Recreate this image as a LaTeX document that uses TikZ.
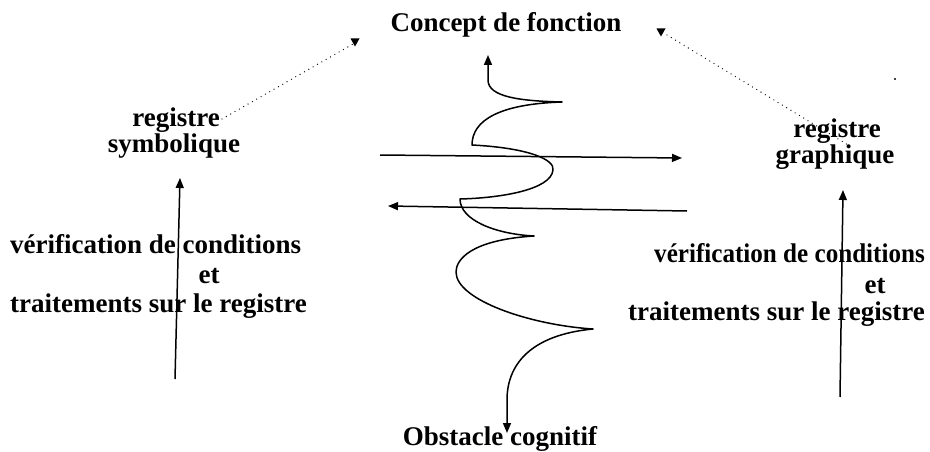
\documentclass[tikz,border=0pt]{standalone}
\usepackage{fontspec}
\setmainfont{Liberation Serif}
\usetikzlibrary{arrows.meta}
\begin{document}
\begin{tikzpicture}[x=1pt,y=-1pt,
  lbl/.style={font=\fontsize{27}{31}\selectfont\bfseries, inner sep=0pt},
  tip/.style={Triangle[length=10pt,width=8pt]},
  arr/.style={line width=1.5pt, -{Triangle[length=10pt,width=8pt]}},
  spiral/.style={line width=1.5pt, line join=round},
  dots/.style={line width=1.3pt, line cap=round, dash pattern=on 0pt off 5pt},
  downtri/.pic={\fill (-4.5,-3.5) -- (4.5,-3.5) -- (0,4.5) -- cycle;}]
\useasboundingbox (0,0) rectangle (930,452);

% titles
\node[lbl, anchor=base] (concept) at (506,32) {Concept de fonction};
\node[lbl, anchor=base] (obstacle) at (500,445) {Obstacle cognitif};

% registers
\node[lbl, anchor=base] (regS) at (176,127) {registre};
\node[lbl, anchor=base] (sym) at (174,153) {symbolique};
\node[lbl, anchor=base] (regG) at (837,137) {registre};
\node[lbl, anchor=base] (graph) at (835,163) {graphique};

% left side labels
\node[lbl, anchor=base west] (verL) at (10,253) {vérification de conditions};
\node[lbl, anchor=base] (etL) at (209,283) {et};
\node[lbl, anchor=base west] (traL) at (10,312) {traitements sur le registre};

% right side labels
\node[lbl, anchor=base east, xscale=0.93] (verR) at (925,262) {vérification de conditions};
\node[lbl, anchor=base] (etR) at (875,293) {et};
\node[lbl, anchor=base east] (traR) at (925,320) {traitements sur le registre};

% anchor points of the connectors
\coordinate (dsA) at (222,119);
\coordinate (dsB) at (353,44);
\coordinate (dgA) at (667,35);
\coordinate (dgB) at (848,145);
\coordinate (lvA) at (175,379);
\coordinate (lvB) at (180,178);
\coordinate (rvA) at (840,397);
\coordinate (rvB) at (843,190);
\coordinate (h1A) at (380,155);
\coordinate (h1B) at (682,158);
\coordinate (h2A) at (687,211);
\coordinate (h2B) at (388,206);
\coordinate (ctop) at (488,55);
\coordinate (cbot) at (507,433);

% dotted links towards the concept
\draw[dots] (dsA) -- (dsB);
\pic at (355,42) {downtri};
\draw[dots] (dgA) -- (dgB);
\pic at (661,32) {downtri};
\fill (895,79) circle (1.2pt);

% vertical arrows
\draw[arr] (lvA) -- (lvB);
\draw[arr] (rvA) -- (rvB);

% horizontal arrows
\draw[arr] (h1A) -- (h1B);
\draw[arr] (h2A) -- (h2B);

% spiral between the concept and the obstacle
\draw[spiral, {Triangle[length=10pt,width=8pt]}-{Triangle[length=10pt,width=8pt]}]
  (ctop) -- (488,80)
  .. controls (488,97) and (520,101) .. (562,102)
  .. controls (500,104) and (472,120) .. (472,145)
  .. controls (530,148) and (555,160) .. (553,170)
  .. controls (551,190) and (500,198) .. (460,199)
  .. controls (460,220) and (495,234) .. (534,236)
  .. controls (470,240) and (456,260) .. (456,272)
  .. controls (456,300) and (530,325) .. (593,329)
  .. controls (530,335) and (507,365) .. (507,400)
  -- (cbot);
\end{tikzpicture}
\end{document}
